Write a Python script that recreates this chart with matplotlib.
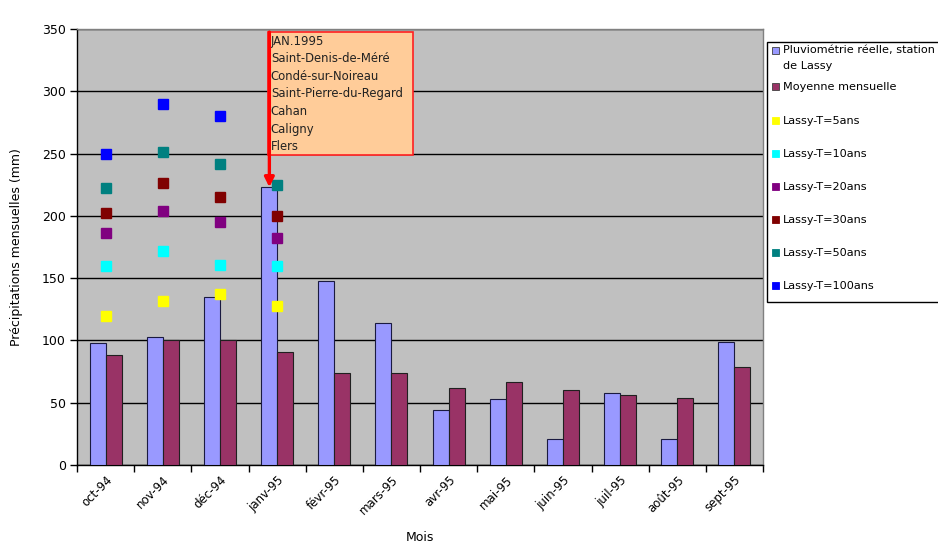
import numpy as np
import matplotlib
matplotlib.use("Agg")
import matplotlib.pyplot as plt
from matplotlib.patches import Rectangle

# Monthly data, October 1994 - September 1995
months = ["oct-94", "nov-94", "déc-94", "janv-95", "févr-95", "mars-95",
          "avr-95", "mai-95", "juin-95", "juil-95", "août-95", "sept-95"]
pluvio_reelle = [98, 103, 135, 223, 147.5, 114, 44.5, 53, 20.5, 58, 20.5, 99]
moyenne_mensuelle = [88.5, 100.5, 100.5, 91, 73.5, 73.5, 62, 67, 60.5, 56, 54, 79]

# Return-period rainfall for the first four months
t_months = [0, 1, 2, 3]
lassy_t5 = [120, 131.5, 137, 127.5]
lassy_t10 = [159.5, 171.5, 160.5, 159.5]
lassy_t20 = [186, 204, 195, 182]
lassy_t30 = [202, 226, 215.5, 200]
lassy_t50 = [222, 251.5, 242, 224.5]
lassy_t100 = [250, 290, 280.5, np.nan]

event_lines = ["JAN.1995", "Saint-Denis-de-Méré", "Condé-sur-Noireau",
               "Saint-Pierre-du-Regard", "Cahan", "Caligny", "Flers"]

bar_labels = ["Pluviométrie réelle, station\nde Lassy", "Moyenne mensuelle"]
t_labels = ["Lassy-T=5ans", "Lassy-T=10ans", "Lassy-T=20ans",
            "Lassy-T=30ans", "Lassy-T=50ans", "Lassy-T=100ans"]
t_series = [lassy_t5, lassy_t10, lassy_t20, lassy_t30, lassy_t50, lassy_t100]
t_colors = ["#FFFF00", "#00FFFF", "#800080", "#800000", "#008080", "#0000FF"]
bar_colors = ["#9999FF", "#993366"]

plt.rcParams["font.family"] = ["DejaVu Sans"]

W, H = 938, 545
fig = plt.figure(figsize=(W / 100, H / 100), dpi=100)
ax = fig.add_axes([77 / W, 1 - 465 / H, (763 - 77) / W, (465 - 29) / H])
ax.set_facecolor("#C0C0C0")

x = np.arange(len(months))
bw = 0.28
ax.bar(x - bw / 2, pluvio_reelle, bw, color=bar_colors[0],
       edgecolor="#1a1a40", linewidth=0.8, zorder=3)
ax.bar(x + bw / 2, moyenne_mensuelle, bw, color=bar_colors[1],
       edgecolor="#202020", linewidth=0.8, zorder=3)

for vals, col in zip(t_series, t_colors):
    ax.plot(t_months, vals, linestyle="none", marker="s", markersize=7.2,
            markerfacecolor=col, markeredgecolor=col, zorder=4)

ax.set_xlim(-0.5, len(months) - 0.5)
ax.set_ylim(0, 350)
ax.set_yticks(np.arange(0, 351, 50))
ax.yaxis.grid(True, color="black", linewidth=1.0, zorder=1)
ax.set_axisbelow(True)

# boundary ticks between categories, labels at category centers
ax.set_xticks(np.arange(-0.5, len(months) + 0.5, 1))
ax.set_xticklabels([])
ax.set_xticks(x, minor=True)
ax.set_xticklabels(months, minor=True, rotation=45, ha="right", va="top",
                   rotation_mode="anchor", fontsize=8.5)
ax.tick_params(axis="x", which="major", length=5, width=1, color="black")
ax.tick_params(axis="x", which="minor", length=0, pad=6)
ax.tick_params(axis="y", length=5, width=1, labelsize=9, pad=3)

for s in ["top", "right"]:
    ax.spines[s].set_color("#808080")
    ax.spines[s].set_linewidth(1.0)
for s in ["left", "bottom"]:
    ax.spines[s].set_color("black")
    ax.spines[s].set_linewidth(1.0)

ax.set_xlabel("Mois", fontsize=9, labelpad=10)
ax.set_ylabel("Précipitations mensuelles (mm)", fontsize=9, labelpad=14)

# January 1995 event callout
bx0, bx1 = 2.84, 5.37
by0, by1 = 248.5, 347.5
ax.add_patch(Rectangle((bx0, by0), bx1 - bx0, by1 - by0, facecolor="#FFCC99",
                       edgecolor="#FF2020", linewidth=1.2, zorder=5))
ax.text(bx0 + 0.05, 345.5, "\n".join(event_lines), ha="left", va="top",
        fontsize=8.4, linespacing=1.46, color="#222222", zorder=6)
ax.annotate("", xy=(2.865, pluvio_reelle[3]), xytext=(2.865, by1),
            arrowprops=dict(arrowstyle="-|>", color="#FF0000", lw=2.4,
                            mutation_scale=14, shrinkA=0, shrinkB=0),
            zorder=7)

# Legend drawn in figure pixel space
fig.patches.append(Rectangle((767 / W, 1 - 302 / H), 200 / W, (302 - 42) / H,
                             transform=fig.transFigure, facecolor="white",
                             edgecolor="black", linewidth=1.0))
rows_y = [50, 86.5, 120.5, 153.5, 186.5, 219.5, 252.5, 285.5]
labels = bar_labels + t_labels
colors = bar_colors + t_colors
for yy, lab, col in zip(rows_y, labels, colors):
    fig.patches.append(Rectangle((772 / W, 1 - (yy + 3.5) / H), 7 / W, 7 / H,
                                 transform=fig.transFigure, facecolor=col,
                                 edgecolor="#404040" if col in bar_colors else col,
                                 linewidth=0.6))
    fig.text(783 / W, 1 - (yy - 4.5) / H, lab, ha="left", va="top",
             fontsize=8.1, linespacing=1.68)

fig.savefig("out.png", dpi=100, facecolor="white")
